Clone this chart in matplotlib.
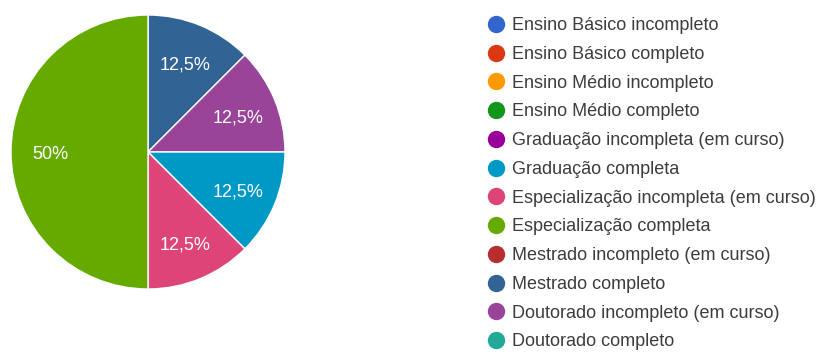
import matplotlib
matplotlib.use("Agg")
from matplotlib import pyplot as plt
from matplotlib.lines import Line2D

plt.rcParams['font.family'] = ['Liberation Sans', 'DejaVu Sans']

categories = [
    "Ensino Básico incompleto",
    "Ensino Básico completo",
    "Ensino Médio incompleto",
    "Ensino Médio completo",
    "Graduação incompleta (em curso)",
    "Graduação completa",
    "Especialização incompleta (em curso)",
    "Especialização completa",
    "Mestrado incompleto (em curso)",
    "Mestrado completo",
    "Doutorado incompleto (em curso)",
    "Doutorado completo",
]
counts = [0, 0, 0, 0, 0, 1, 1, 4, 0, 1, 1, 0]
colors = ["#3366cc", "#dc3912", "#ff9900", "#109618", "#990099", "#0099c6",
          "#dd4477", "#66aa00", "#b82e2e", "#316395", "#994499", "#22aa99"]

# order in which the slices are drawn clockwise from the top
draw_order = ["Mestrado completo", "Doutorado incompleto (em curso)",
              "Graduação completa", "Especialização incompleta (em curso)",
              "Especialização completa"]

idx = [categories.index(c) for c in draw_order]
vals = [counts[i] for i in idx]
cols = [colors[i] for i in idx]

fig = plt.figure(figsize=(8.25, 3.54), dpi=100)
ax = fig.add_axes([11 / 825, (354 - 152 - 137) / 354, 274 / 825, 274 / 354])
wedges, texts, autotexts = ax.pie(
    vals, colors=cols, startangle=90, counterclock=False,
    autopct=lambda p: ("%g%%" % round(p, 1)).replace(".", ","),
    pctdistance=0.71,
    wedgeprops=dict(edgecolor="white", linewidth=1),
    textprops=dict(color="white", fontsize=13),
)
for t in autotexts:
    x, y = t.get_position()
    t.set_position((x, y - 0.02))
ax.set_xlim(-1, 1)
ax.set_ylim(-1, 1)
ax.set_aspect("equal")

handles = [Line2D([0], [0], marker="o", linestyle="none", markersize=11.5,
                  markerfacecolor=c, markeredgecolor=c) for c in colors]
fig.legend(handles, categories, loc="upper left",
           bbox_to_anchor=(480 / 825, 1 - 10 / 354), frameon=False,
           fontsize=13, labelspacing=0.65, handletextpad=0.4,
           handlelength=1.0, labelcolor="#3c3c3c", borderaxespad=0)

fig.savefig("out.png", dpi=100)
